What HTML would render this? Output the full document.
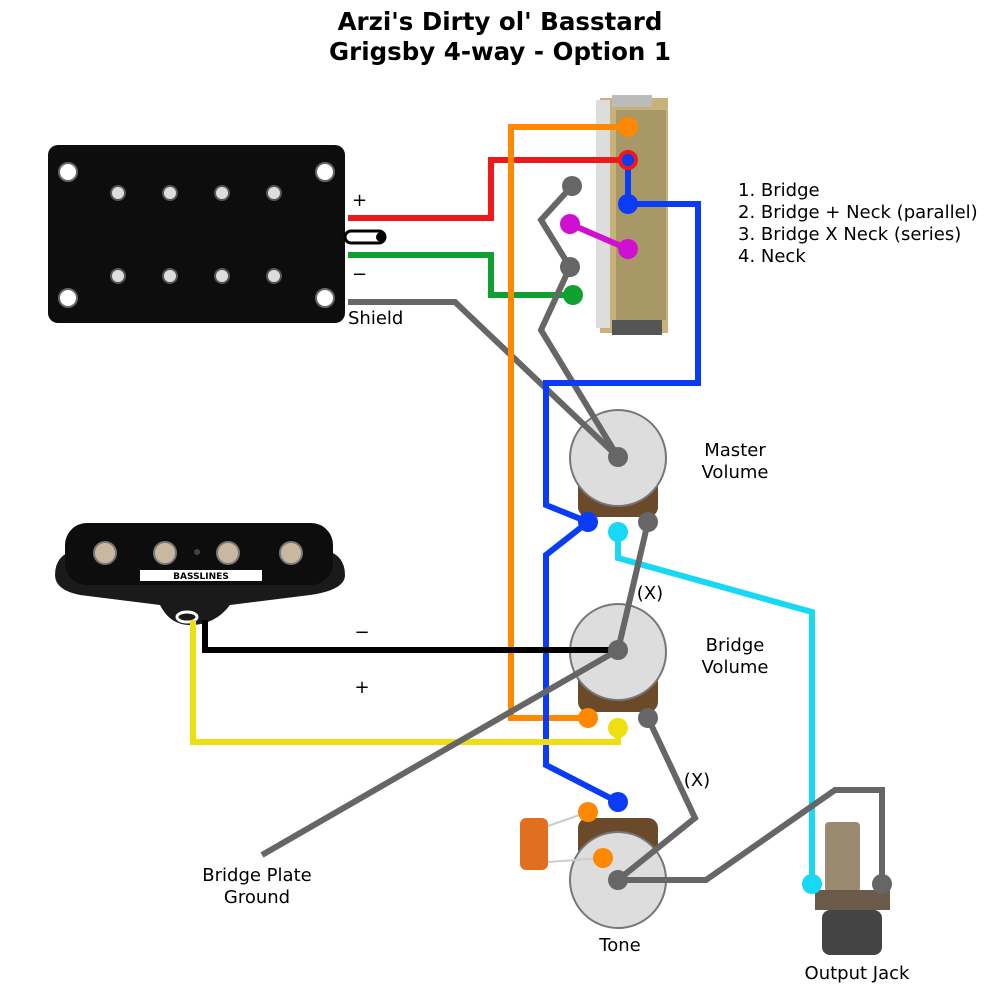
<!DOCTYPE html>
<html><head><meta charset="utf-8"><style>body{margin:0;background:#fff}svg{display:block}text{font-family:"DejaVu Sans","Liberation Sans",sans-serif}</style></head>
<body>
<svg width="1000" height="1000" viewBox="0 0 1000 1000" xmlns="http://www.w3.org/2000/svg">
<rect width="1000" height="1000" fill="#fff"/>
<text x="500" y="30" font-size="24.5" font-weight="bold" text-anchor="middle">Arzi's Dirty ol' Basstard</text>
<text x="500" y="60" font-size="24.5" font-weight="bold" text-anchor="middle">Grigsby 4-way - Option 1</text>

<!-- humbucker -->
<rect x="48" y="145" width="297" height="178" rx="10" fill="#0d0d0d"/>
<g fill="#fff" stroke="#666" stroke-width="2">
<circle cx="68" cy="172" r="9"/><circle cx="325" cy="172" r="9"/><circle cx="68" cy="298" r="9"/><circle cx="325" cy="298" r="9"/></g>
<g fill="#ddd" stroke="#555" stroke-width="2">
<circle cx="118" cy="193" r="7"/><circle cx="170" cy="193" r="7"/><circle cx="222" cy="193" r="7"/><circle cx="274" cy="193" r="7"/>
<circle cx="118" cy="276" r="7"/><circle cx="170" cy="276" r="7"/><circle cx="222" cy="276" r="7"/><circle cx="274" cy="276" r="7"/></g>
<rect x="345" y="231" width="40" height="12" rx="6" fill="#fff" stroke="#000" stroke-width="3"/>
<circle cx="381" cy="237" r="5" fill="#000"/>

<!-- switch -->
<rect x="600" y="98" width="68" height="235" fill="#c9b27a"/>
<rect x="596" y="100" width="14" height="228" fill="#ddd"/>
<rect x="616" y="110" width="50" height="210" fill="#a89868"/>
<rect x="612" y="320" width="50" height="15" fill="#555"/>
<rect x="612" y="95" width="40" height="12" fill="#bbb"/>

<!-- pickup single coil -->
<path d="M55,575 Q55,555 75,550 L325,550 Q345,555 345,575 Q345,590 310,595 L230,605 Q215,625 190,625 Q170,625 160,605 L80,595 Q55,590 55,575Z" fill="#1a1a1a"/>
<rect x="65" y="523" width="268" height="62" rx="22" fill="#0d0d0d"/>
<g fill="#c8b8a0" stroke="#777" stroke-width="2"><circle cx="105" cy="553" r="11"/><circle cx="165" cy="553" r="11"/><circle cx="228" cy="553" r="11"/><circle cx="291" cy="553" r="11"/></g>
<circle cx="197" cy="552" r="3" fill="#444"/>
<rect x="140" y="570" width="122" height="11" fill="#fff"/>
<text x="201" y="579" font-size="9" font-weight="bold" text-anchor="middle">BASSLINES</text>
<ellipse cx="187" cy="617" rx="10" ry="5" fill="none" stroke="#fff" stroke-width="3"/>

<!-- pots -->
<g>
<rect x="578" y="475" width="80" height="42" rx="10" fill="#6b4a2a"/>
<circle cx="618" cy="458" r="48" fill="#ddd" stroke="#777" stroke-width="2"/>
<rect x="578" y="670" width="80" height="42" rx="10" fill="#6b4a2a"/>
<circle cx="618" cy="652" r="48" fill="#ddd" stroke="#777" stroke-width="2"/>
<rect x="578" y="818" width="80" height="42" rx="10" fill="#6b4a2a"/>
<circle cx="618" cy="880" r="48" fill="#ddd" stroke="#777" stroke-width="2"/>
</g>
<!-- capacitor -->
<rect x="520" y="818" width="28" height="52" rx="6" fill="#e07020"/>
<path d="M548,826 L588,812 M548,862 L603,858" stroke="#ccc" stroke-width="2"/>
<!-- jack -->
<rect x="825" y="822" width="35" height="70" rx="4" fill="#9a8a70"/>
<rect x="815" y="890" width="75" height="20" fill="#6a5a4a"/>
<rect x="822" y="910" width="60" height="45" rx="8" fill="#444"/>

<g fill="none" stroke-width="6" stroke-linejoin="miter">
<polyline points="348,218 491,218 491,160 628,160" stroke="#f01818"/>
<polyline points="348,255 491,255 491,295 573,295" stroke="#10a030"/>
<polyline points="348,302 455,302 618,457" stroke="#666"/>
<polyline points="628,127 511,127 511,718 588,718" stroke="#ff8800"/>
<polyline points="572,186 541,220 570,267 541,330 618,457" stroke="#666"/>
<line x1="570" y1="224" x2="628" y2="249" stroke="#d010d0"/>
<polyline points="628,160 628,204 698,204 698,383 546,383 546,505 588,522 546,555 546,765 618,802" stroke="#0a3cf5"/>
<polyline points="618,532 618,558 812,612 812,884" stroke="#18d8f5"/>
<polyline points="648,522 618,650" stroke="#666"/>
<polyline points="648,718 695,818 618,880 706,880 835,790 882,790 882,884" stroke="#666"/>
<polyline points="205,620 205,650 618,650" stroke="#000"/>
<polyline points="193,620 193,742 618,742 618,728" stroke="#eee010"/>
<line x1="262" y1="855" x2="618" y2="650" stroke="#666"/>
</g>
<g>
<circle cx="628" cy="127" r="10" fill="#ff8800"/>
<circle cx="628" cy="160" r="8" fill="#0a3cf5" stroke="#f01818" stroke-width="4"/>
<circle cx="628" cy="204" r="10" fill="#0a3cf5"/>
<circle cx="572" cy="186" r="10" fill="#666"/>
<circle cx="570" cy="224" r="10" fill="#d010d0"/>
<circle cx="628" cy="249" r="10" fill="#d010d0"/>
<circle cx="570" cy="267" r="10" fill="#666"/>
<circle cx="573" cy="295" r="10" fill="#10a030"/>
<circle cx="618" cy="457" r="10" fill="#666"/>
<circle cx="588" cy="522" r="10" fill="#0a3cf5"/>
<circle cx="618" cy="532" r="10" fill="#18d8f5"/>
<circle cx="648" cy="522" r="10" fill="#666"/>
<circle cx="618" cy="650" r="10" fill="#666"/>
<circle cx="588" cy="718" r="10" fill="#ff8800"/>
<circle cx="618" cy="728" r="10" fill="#eee010"/>
<circle cx="648" cy="718" r="10" fill="#666"/>
<circle cx="588" cy="812" r="10" fill="#ff8800"/>
<circle cx="618" cy="802" r="10" fill="#0a3cf5"/>
<circle cx="603" cy="858" r="10" fill="#ff8800"/>
<circle cx="618" cy="880" r="10" fill="#666"/>
<circle cx="812" cy="884" r="10" fill="#18d8f5"/>
<circle cx="882" cy="884" r="10" fill="#666"/>
</g>
<g font-size="18">
<text x="738" y="196">1. Bridge</text>
<text x="738" y="218">2. Bridge + Neck (parallel)</text>
<text x="738" y="240">3. Bridge X Neck (series)</text>
<text x="738" y="262">4. Neck</text>
<text x="352" y="206">+</text>
<text x="352" y="280">−</text>
<text x="348" y="324">Shield</text>
<text x="735" y="456" text-anchor="middle">Master</text>
<text x="735" y="478" text-anchor="middle">Volume</text>
<text x="735" y="651" text-anchor="middle">Bridge</text>
<text x="735" y="673" text-anchor="middle">Volume</text>
<text x="650" y="599" text-anchor="middle">(X)</text>
<text x="697" y="786" text-anchor="middle">(X)</text>
<text x="620" y="951" text-anchor="middle">Tone</text>
<text x="857" y="979" text-anchor="middle">Output Jack</text>
<text x="257" y="881" text-anchor="middle">Bridge Plate</text>
<text x="257" y="903" text-anchor="middle">Ground</text>
<text x="362" y="638" text-anchor="middle">−</text>
<text x="362" y="693" text-anchor="middle">+</text>
</g>
</svg>
</body></html>
